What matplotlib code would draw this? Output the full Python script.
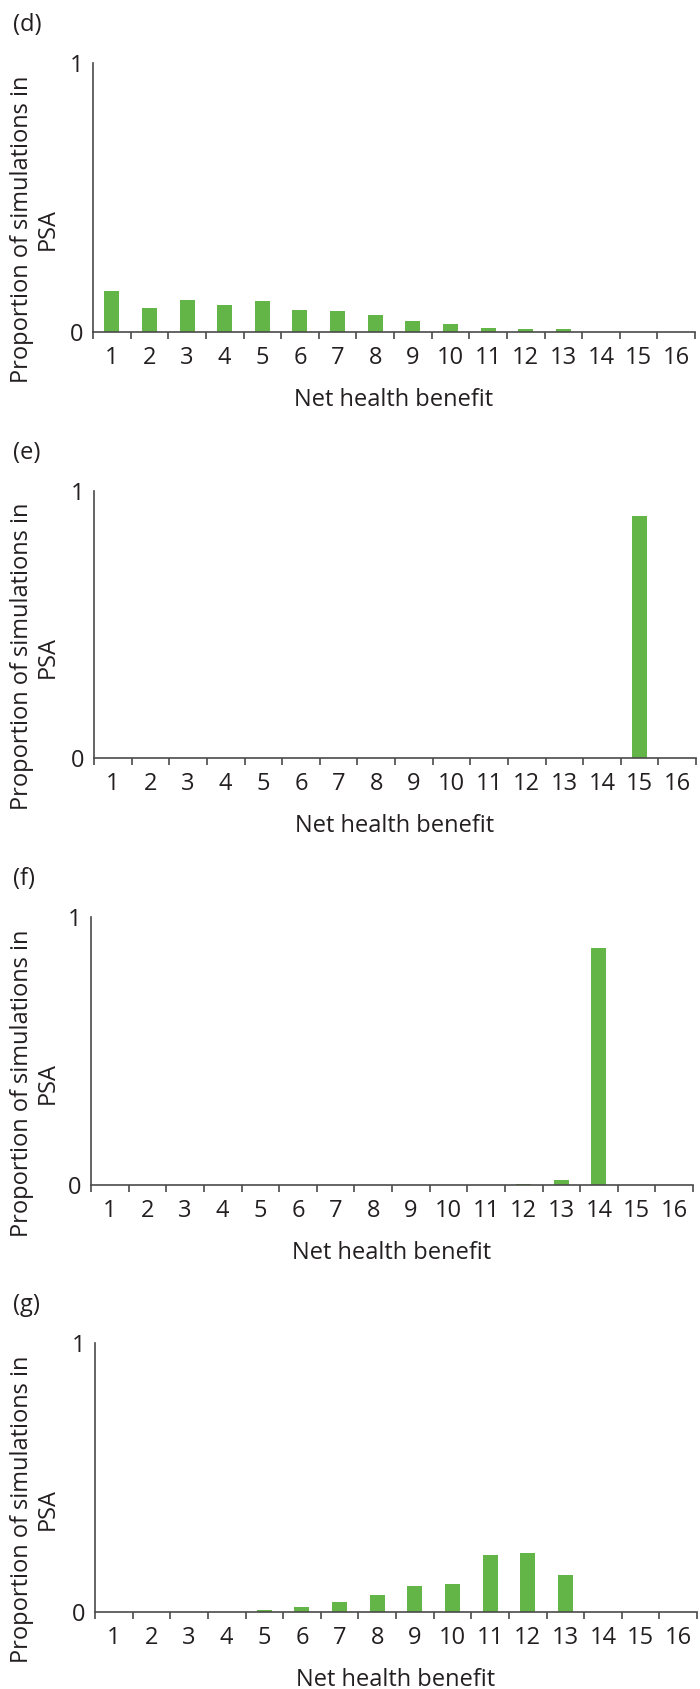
import matplotlib
matplotlib.use("Agg")
import matplotlib.pyplot as plt
import numpy as np

plt.rcParams['font.family'] = ['Open Sans', 'DejaVu Sans']

categories = list(range(1, 17))
tick_labels = [str(c) for c in categories]

panel_d = [0.152, 0.090, 0.120, 0.099, 0.114, 0.081, 0.077, 0.063,
           0.042, 0.031, 0.014, 0.010, 0.010, 0.0, 0.0, 0.0]
panel_e = [0.0, 0.0, 0.0, 0.0, 0.0, 0.0, 0.0, 0.0,
           0.0, 0.0, 0.0, 0.0, 0.0, 0.0, 0.908, 0.0]
panel_f = [0.0, 0.0, 0.0, 0.0, 0.0, 0.0, 0.0, 0.0,
           0.0, 0.0, 0.001, 0.002, 0.019, 0.884, 0.0, 0.0]
panel_g = [0.0, 0.0, 0.0, 0.0, 0.007, 0.019, 0.038, 0.064,
           0.095, 0.105, 0.212, 0.219, 0.136, 0.0, 0.0, 0.0]

panels = [("(d)", panel_d), ("(e)", panel_e), ("(f)", panel_f), ("(g)", panel_g)]

W, H = 700, 1689
fig = plt.figure(figsize=(W / 100, H / 100), dpi=100)

# pixel boxes: left, right, top, bottom of each plot area
boxes = [(93, 695, 63, 332),
         (94, 696, 491, 758),
         (91, 693, 917, 1185),
         (95, 697, 1343, 1612)]

green = "#63b547"
grey = "#4a4a4a"
txt = "#231f20"
fs = 17

for (name, vals), (l, r, t, b) in zip(panels, boxes):
    ax = fig.add_axes([l / W, 1 - b / H, (r - l) / W, (b - t) / H])
    ax.bar(categories, vals, width=0.4, color=green, edgecolor="none")
    ax.set_xlim(0.5, 16.5)
    ax.set_ylim(0, 1)
    for s in ["top", "right"]:
        ax.spines[s].set_visible(False)
    for s in ["left", "bottom"]:
        ax.spines[s].set_color(grey)
        ax.spines[s].set_linewidth(1.2)
    ax.set_yticks([0, 1])
    ax.set_yticklabels(["0", "1"])
    ax.tick_params(axis="y", length=0, pad=7, labelsize=fs, labelcolor=txt)
    ax.set_xticks(np.arange(0.5, 17, 1))
    ax.set_xticklabels([])
    ax.tick_params(axis="x", which="major", length=5, width=1.2, color=grey, direction="out")
    ax.set_xticks(categories, minor=True)
    ax.set_xticklabels(tick_labels, minor=True)
    ax.tick_params(axis="x", which="minor", length=0, pad=10, labelsize=fs, labelcolor=txt)

    h = b - t
    ax.text(0.5, -68 / h, "Net health benefit", transform=ax.transAxes,
            fontsize=fs, color=txt, ha="center", va="center")

    fig.text(13 / W, 1 - (t - 38) / H, name, fontsize=fs, color=txt, va="center", ha="left")
    fig.text(35 / W, 1 - ((t + b) / 2 + 32) / H, "Proportion of simulations in\nPSA",
             rotation=90, fontsize=fs, color=txt, ha="center", va="center",
             multialignment="center", linespacing=1.1)

fig.savefig("out.png", dpi=100)
